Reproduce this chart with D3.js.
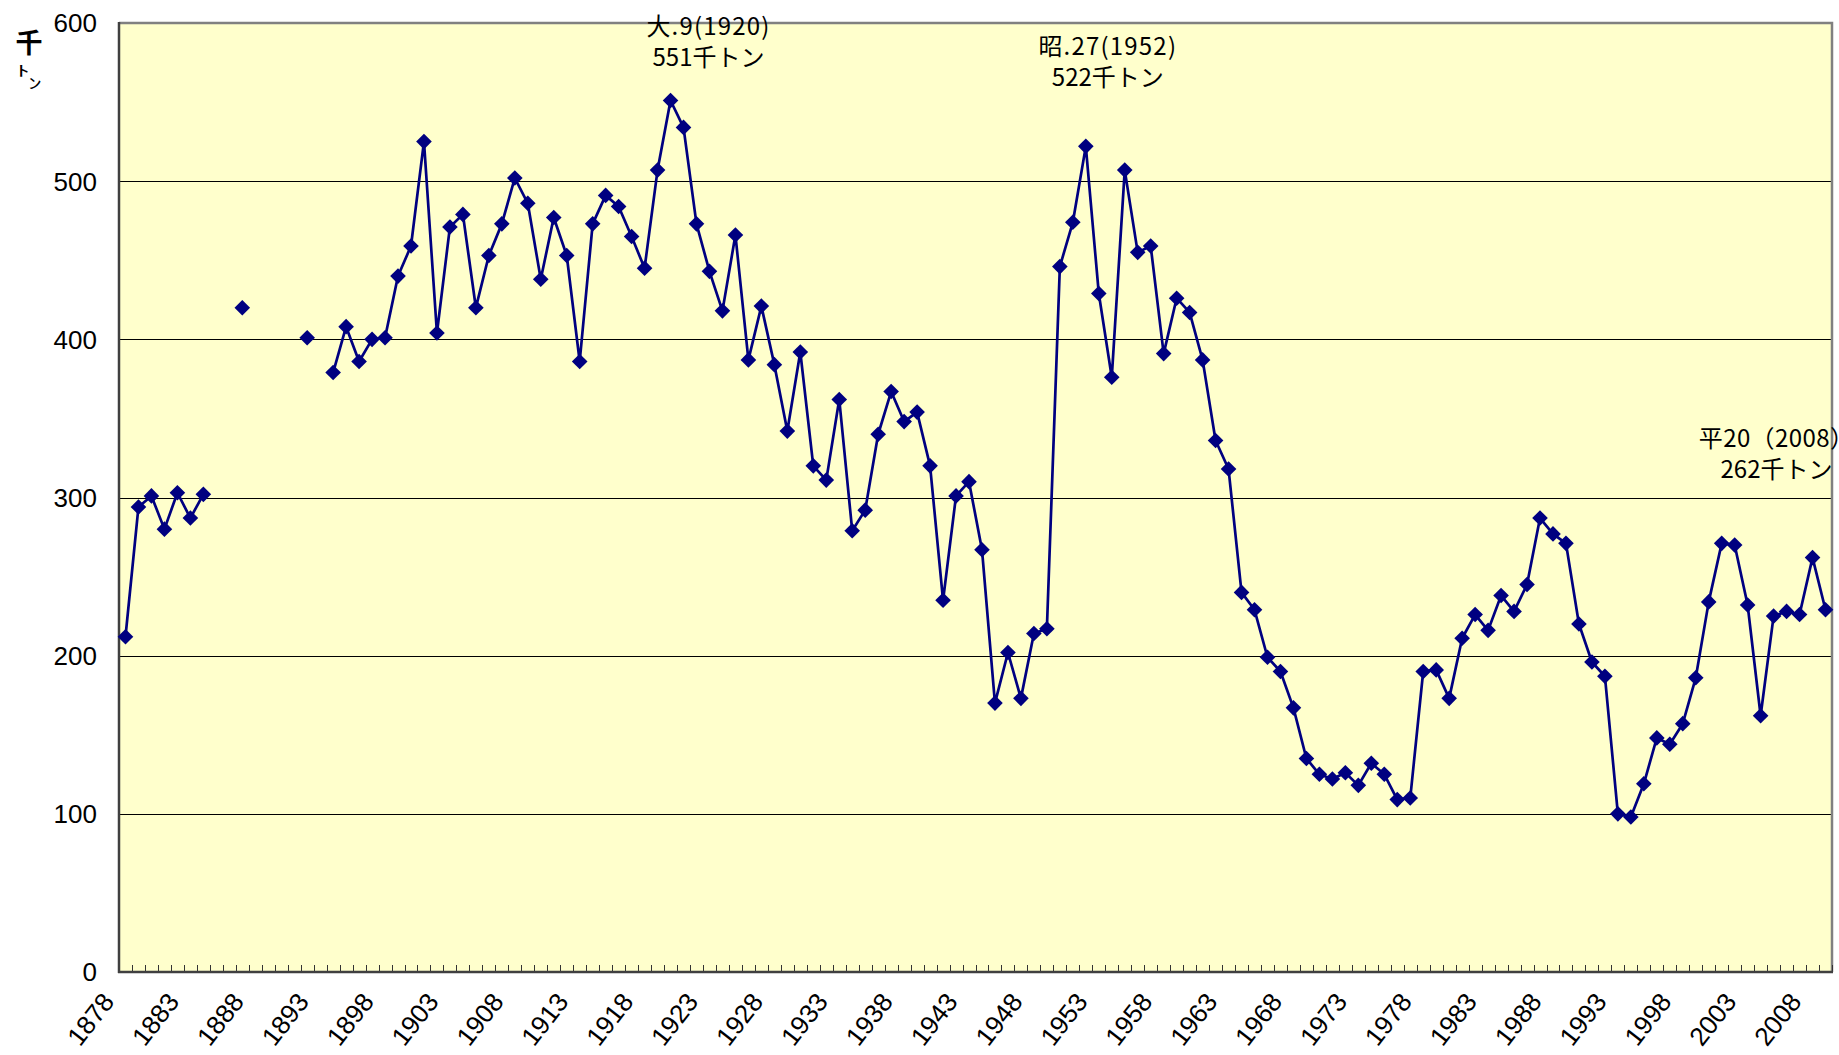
<!DOCTYPE html>
<html>
<head>
<meta charset="utf-8">
<script src="https://cdn.jsdelivr.net/npm/d3@7"></script>
<style>
  html, body { margin: 0; padding: 0; background: #fff; }
  svg { display: block; }
  .tick-label { font-family: "Liberation Sans", Arial, sans-serif; fill: #000; }
  .anno { font-family: "Noto Sans CJK JP", sans-serif; fill: #000; }
</style>
</head>
<body>
<div id="chart"></div>
<script>
// 年次 (1878-2009)
var years = [
  1878, 1879, 1880, 1881, 1882, 1883, 1884, 1885, 1886, 1887,
  1888, 1889, 1890, 1891, 1892, 1893, 1894, 1895, 1896, 1897,
  1898, 1899, 1900, 1901, 1902, 1903, 1904, 1905, 1906, 1907,
  1908, 1909, 1910, 1911, 1912, 1913, 1914, 1915, 1916, 1917,
  1918, 1919, 1920, 1921, 1922, 1923, 1924, 1925, 1926, 1927,
  1928, 1929, 1930, 1931, 1932, 1933, 1934, 1935, 1936, 1937,
  1938, 1939, 1940, 1941, 1942, 1943, 1944, 1945, 1946, 1947,
  1948, 1949, 1950, 1951, 1952, 1953, 1954, 1955, 1956, 1957,
  1958, 1959, 1960, 1961, 1962, 1963, 1964, 1965, 1966, 1967,
  1968, 1969, 1970, 1971, 1972, 1973, 1974, 1975, 1976, 1977,
  1978, 1979, 1980, 1981, 1982, 1983, 1984, 1985, 1986, 1987,
  1988, 1989, 1990, 1991, 1992, 1993, 1994, 1995, 1996, 1997,
  1998, 1999, 2000, 2001, 2002, 2003, 2004, 2005, 2006, 2007,
  2008, 2009
];

// 千トン (null = データなし)
var tonnage = [
  212, 294, 301, 280, 303, 287, 302, null, null, 420,
  null, null, null, null, 401, null, 379, 408, 386, 400,
  401, 440, 459, 525, 404, 471, 479, 420, 453, 473,
  502, 486, 438, 477, 453, 386, 473, 491, 484, 465,
  445, 507, 551, 534, 473, 443, 418, 466, 387, 421,
  384, 342, 392, 320, 311, 362, 279, 292, 340, 367,
  348, 354, 320, 235, 301, 310, 267, 170, 202, 173,
  214, 217, 446, 474, 522, 429, 376, 507, 455, 459,
  391, 426, 417, 387, 336, 318, 240, 229, 199, 190,
  167, 135, 125, 122, 126, 118, 132, 125, 109, 110,
  190, 191, 173, 211, 226, 216, 238, 228, 245, 287,
  277, 271, 220, 196, 187, 100, 98, 119, 148, 144,
  157, 186, 234, 271, 270, 232, 162, 225, 228, 226,
  262, 229
];

var xTickYears = [1878, 1883, 1888, 1893, 1898, 1903, 1908, 1913, 1918, 1923,
  1928, 1933, 1938, 1943, 1948, 1953, 1958, 1963, 1968, 1973, 1978, 1983,
  1988, 1993, 1998, 2003, 2008];
var yTicks = [0, 100, 200, 300, 400, 500, 600];

var annoYears = [1920, 1952, 2008];
var annoLine1 = ["大.9(1920)", "昭.27(1952)", "平20（2008）"];
var annoLine2 = ["551千トン", "522千トン", "262千トン"];

(function(){

  var width = 1839, height = 1055;
  var pLeft = 119, pRight = 1832, pTop = 23, pBottom = 972;
  var lineColor = '#000080';

  // annotation placement relative to its point (layout only)
  var annoDx = [38, 22, -36];
  var annoDy = [-66, -91, -111];
  var annoSpacing = [1.2, 1.2, 0.4];

  var svg = d3.select('#chart')
    .append('svg')
    .attr('width', width)
    .attr('height', height);

  var x = d3.scaleBand().domain(years).range([pLeft, pRight]).padding(0);
  var y = d3.scaleLinear().domain([0, 600]).range([pBottom, pTop]);
  var cx = function(yr){ return x(yr) + x.bandwidth() / 2; };

  var data = years.map(function(yr, i){ return {year: yr, v: tonnage[i]}; });

  // plot background
  svg.append('rect')
    .attr('x', pLeft).attr('y', pTop)
    .attr('width', pRight - pLeft).attr('height', pBottom - pTop)
    .attr('fill', '#FFFFCC');

  // gridlines
  svg.append('g')
    .selectAll('line')
    .data(yTicks.filter(function(t){ return t > 0 && t < 600; }))
    .enter().append('line')
    .attr('x1', pLeft).attr('x2', pRight)
    .attr('y1', function(d){ return Math.round(y(d)) + 0.5; })
    .attr('y2', function(d){ return Math.round(y(d)) + 0.5; })
    .attr('stroke', '#000')
    .attr('stroke-width', 1);

  // plot border (top/right gray)
  svg.append('path')
    .attr('d', 'M' + pLeft + ',' + pTop + 'H' + pRight + 'V' + pBottom)
    .attr('fill', 'none')
    .attr('stroke', '#808080')
    .attr('stroke-width', 2.5);

  // category ticks (inside)
  var bounds = years.map(function(yr){ return x(yr); }).concat([pRight]);
  svg.append('g')
    .selectAll('line')
    .data(bounds)
    .enter().append('line')
    .attr('x1', function(d){ return Math.round(d) + 0.5; })
    .attr('x2', function(d){ return Math.round(d) + 0.5; })
    .attr('y1', pBottom).attr('y2', pBottom - 7)
    .attr('stroke', '#333')
    .attr('stroke-width', 1);

  // axis lines
  svg.append('line')
    .attr('x1', pLeft).attr('x2', pLeft)
    .attr('y1', pTop - 1).attr('y2', pBottom + 1)
    .attr('stroke', '#404040').attr('stroke-width', 2.5);
  svg.append('line')
    .attr('x1', pLeft - 1).attr('x2', pRight + 1)
    .attr('y1', pBottom).attr('y2', pBottom)
    .attr('stroke', '#404040').attr('stroke-width', 2.5);

  // y tick labels
  svg.append('g')
    .selectAll('text')
    .data(yTicks)
    .enter().append('text')
    .attr('class', 'tick-label')
    .attr('x', pLeft - 22)
    .attr('y', function(d){ return y(d); })
    .attr('dy', '0.36em')
    .attr('text-anchor', 'end')
    .style('font-size', '26px')
    .text(function(d){ return d; });

  // x tick labels (rotated)
  svg.append('g')
    .selectAll('text')
    .data(xTickYears)
    .enter().append('text')
    .attr('class', 'tick-label')
    .attr('text-anchor', 'end')
    .attr('transform', function(d){
      return 'translate(' + (cx(d) - 10) + ',' + (pBottom + 30) + ') rotate(-52)';
    })
    .style('font-size', '26px')
    .text(function(d){ return d; });

  // y axis title 千ﾄﾝ
  svg.append('text').attr('class', 'anno')
    .attr('x', 29).attr('y', 53)
    .attr('text-anchor', 'middle')
    .style('font-size', '27px').style('font-weight', 'bold')
    .text('千');
  svg.append('text').attr('class', 'anno')
    .attr('text-anchor', 'middle')
    .attr('transform', 'translate(23,76) scale(1.8,1)')
    .style('font-size', '15px')
    .text('ﾄ');
  svg.append('text').attr('class', 'anno')
    .attr('text-anchor', 'middle')
    .attr('transform', 'translate(35,89) scale(1.8,1)')
    .style('font-size', '15px')
    .text('ﾝ');

  // series line
  var line = d3.line()
    .defined(function(d){ return d.v !== null; })
    .x(function(d){ return cx(d.year); })
    .y(function(d){ return y(d.v); });

  svg.append('path')
    .datum(data)
    .attr('d', line)
    .attr('fill', 'none')
    .attr('stroke', lineColor)
    .attr('stroke-width', 2.7)
    .attr('stroke-linejoin', 'round');

  // diamond markers
  var diamond = d3.symbol().type(d3.symbolSquare).size(122);
  svg.append('g')
    .selectAll('path')
    .data(data.filter(function(d){ return d.v !== null; }))
    .enter().append('path')
    .attr('d', diamond)
    .attr('transform', function(d){
      return 'translate(' + cx(d.year) + ',' + y(d.v) + ') rotate(45)';
    })
    .attr('fill', lineColor);

  // annotations
  annoYears.forEach(function(yr, i){
    var v = tonnage[years.indexOf(yr)];
    var ax = cx(yr) + annoDx[i];
    var ay = y(v) + annoDy[i];
    svg.append('text').attr('class', 'anno')
      .attr('x', ax).attr('y', ay)
      .attr('text-anchor', 'middle')
      .style('font-size', '24px')
      .style('letter-spacing', annoSpacing[i] + 'px')
      .text(annoLine1[i]);
    svg.append('text').attr('class', 'anno')
      .attr('x', ax).attr('y', ay + 31)
      .attr('text-anchor', 'middle')
      .style('font-size', '24px')
      .text(annoLine2[i]);
  });

})();
</script>
</body>
</html>
